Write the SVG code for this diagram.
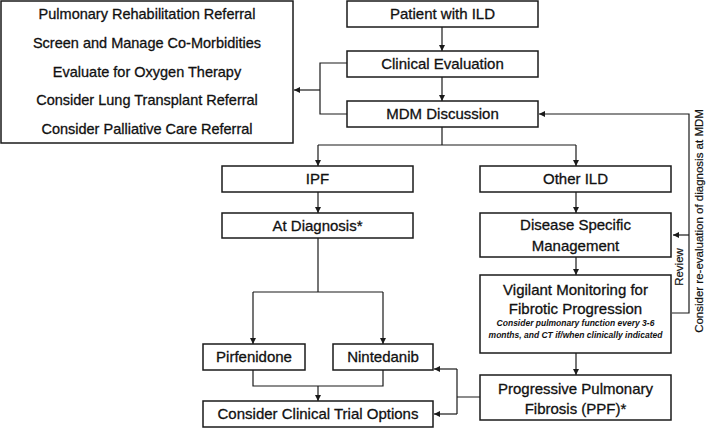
<svg xmlns="http://www.w3.org/2000/svg" width="709" height="428" viewBox="0 0 709 428">
<style>
.box{fill:#fff;stroke:#1a1a1a;stroke-width:1.5}
.t{font-family:"Liberation Sans",Arial,sans-serif;font-size:15px;fill:#111;stroke:#111;stroke-width:0.3;text-anchor:middle}
.lt{font-family:"Liberation Sans",Arial,sans-serif;font-size:14.5px;fill:#111;stroke:#111;stroke-width:0.3;text-anchor:middle}
.sm{font-family:"Liberation Sans",Arial,sans-serif;font-size:8.5px;font-weight:bold;font-style:italic;fill:#111;text-anchor:middle}
.rt{font-family:"Liberation Sans",Arial,sans-serif;font-size:11.5px;fill:#111;stroke:#111;stroke-width:0.2;text-anchor:middle}
.c{fill:none;stroke:#1a1a1a;stroke-width:1.2}
</style>
<defs>
<marker id="ah" markerUnits="userSpaceOnUse" markerWidth="7" markerHeight="7" refX="6" refY="3" orient="auto">
<path d="M0,0 L6,3 L0,6 z" fill="#1a1a1a"/>
</marker>
</defs>
<g id="connectors">
<path class="c" d="M442,27 V51" marker-end="url(#ah)"/>
<path class="c" d="M442,77 V101" marker-end="url(#ah)"/>
<path class="c" d="M347,63 H320 V114 H347"/>
<path class="c" d="M320,90 H294" marker-end="url(#ah)"/>
<path class="c" d="M442,127 V145 M318,145 H576"/>
<path class="c" d="M318,145 V166" marker-end="url(#ah)"/>
<path class="c" d="M576,145 V166" marker-end="url(#ah)"/>
<path class="c" d="M318,192 V213" marker-end="url(#ah)"/>
<path class="c" d="M318,238 V292 M253,292 H383"/>
<path class="c" d="M253,292 V344" marker-end="url(#ah)"/>
<path class="c" d="M383,292 V344" marker-end="url(#ah)"/>
<path class="c" d="M253,370 V386 H383 V370"/>
<path class="c" d="M318,386 V401" marker-end="url(#ah)"/>
<path class="c" d="M576,192 V213" marker-end="url(#ah)"/>
<path class="c" d="M576,257 V275" marker-end="url(#ah)"/>
<path class="c" d="M576,353 V375" marker-end="url(#ah)"/>
<path class="c" d="M480,397 H457 M457,369 V414"/>
<path class="c" d="M457,369 H434" marker-end="url(#ah)"/>
<path class="c" d="M457,414 H434" marker-end="url(#ah)"/>
<path class="c" d="M672,313 H689 V114 H539" marker-end="url(#ah)"/>
<path class="c" d="M689,235 H673" marker-end="url(#ah)"/>
<text class="rt" transform="translate(683,267) rotate(-90)" font-size="10">Review</text>
<text class="rt" transform="translate(703,221) rotate(-90)">Consider re-evaluation of diagnosis at MDM</text>
</g>
<g id="actions">
<rect class="box" x="1" y="1" width="292" height="142"/>
<text class="lt" x="147" y="19">Pulmonary Rehabilitation Referral</text>
<text class="lt" x="147" y="48">Screen and Manage Co-Morbidities</text>
<text class="lt" x="147" y="77">Evaluate for Oxygen Therapy</text>
<text class="lt" x="147" y="105">Consider Lung Transplant Referral</text>
<text class="lt" x="147" y="134">Consider Palliative Care Referral</text>
</g>
<g id="patient">
<rect class="box" x="347" y="1" width="191" height="26"/>
<text class="t" x="442.5" y="19">Patient with ILD</text>
</g>
<g id="clinical">
<rect class="box" x="347" y="51" width="191" height="26"/>
<text class="t" x="442.5" y="69">Clinical Evaluation</text>
</g>
<g id="mdm">
<rect class="box" x="347" y="101" width="191" height="26"/>
<text class="t" x="442.5" y="119">MDM Discussion</text>
</g>
<g id="ipf">
<rect class="box" x="222" y="166" width="191" height="26"/>
<text class="t" x="317.5" y="184">IPF</text>
</g>
<g id="other">
<rect class="box" x="480" y="166" width="191" height="26"/>
<text class="t" x="575.5" y="184">Other ILD</text>
</g>
<g id="atdiag">
<rect class="box" x="222" y="213" width="191" height="25"/>
<text class="t" x="317.5" y="231">At Diagnosis*</text>
</g>
<g id="dsm">
<rect class="box" x="480" y="213" width="191" height="44"/>
<text class="t" x="575.5" y="230">Disease Specific</text>
<text class="t" x="575.5" y="251">Management</text>
</g>
<g id="vigilant">
<rect class="box" x="480" y="275" width="191" height="78"/>
<text class="t" x="575.5" y="295">Vigilant Monitoring for</text>
<text class="t" x="575.5" y="314">Fibrotic Progression</text>
<text class="sm" x="575.5" y="326">Consider pulmonary function every 3-6</text>
<text class="sm" x="575.5" y="338">months, and CT if/when clinically indicated</text>
</g>
<g id="pirfenidone">
<rect class="box" x="203" y="344" width="102" height="26"/>
<text class="t" x="254" y="362">Pirfenidone</text>
</g>
<g id="nintedanib">
<rect class="box" x="333" y="344" width="100" height="26"/>
<text class="t" x="383" y="362">Nintedanib</text>
</g>
<g id="ppf">
<rect class="box" x="480" y="375" width="191" height="45"/>
<text class="t" x="575.5" y="394">Progressive Pulmonary</text>
<text class="t" x="575.5" y="414">Fibrosis (PPF)*</text>
</g>
<g id="trials">
<rect class="box" x="203" y="401" width="230" height="26"/>
<text class="t" x="318" y="419">Consider Clinical Trial Options</text>
</g>
</svg>
